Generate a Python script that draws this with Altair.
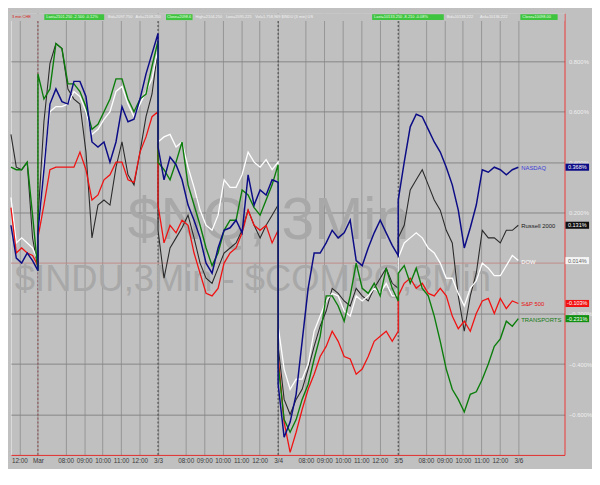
import altair as alt
import pandas as pd

# ---------------- data (values in %, time in trading hours from the Mar open) -------------
pre_hours = [-1.46, -1.17, -0.88, -0.58, -0.29, 0.0]
day_starts = [0.0, 6.5, 13.0, 19.5]
bar_offsets = [0, 0.325, 0.65, 0.975, 1.3, 1.625, 1.95, 2.275, 2.6, 2.925, 3.25,
               3.575, 3.9, 4.225, 4.55, 4.875, 5.2, 5.525, 5.85, 6.175, 6.5]

nasdaq = [0.15, 0.02, 0.00, 0.04, 0.01, -0.03,
          0.12, 0.37, 0.63, 0.69, 0.64, 0.63, 0.72, 0.72, 0.66, 0.48, 0.46, 0.48, 0.40, 0.48, 0.62, 0.56, 0.57, 0.65, 0.75, 0.83, 0.91,
          0.46, 0.33, 0.42, 0.39, 0.33, 0.23, 0.17, 0.10, 0.00, -0.04, 0.06, 0.13, 0.14, 0.17, 0.12, 0.35, 0.23, 0.29, 0.27, 0.33, 0.32,
          -0.48, -0.69, -0.63, -0.52, -0.31, -0.10, 0.04, 0.04, 0.08, 0.13, 0.10, 0.12, 0.17, 0.01, -0.01, 0.06, 0.12, 0.17, 0.12, 0.07, 0.03,
          0.25, 0.40, 0.54, 0.59, 0.58, 0.53, 0.48, 0.44, 0.38, 0.31, 0.21, 0.06, 0.14, 0.23, 0.37, 0.36, 0.38, 0.37, 0.35, 0.37, 0.38]
russell = [0.51, 0.38, 0.37, 0.40, 0.10, -0.02,
           0.17, 0.56, 0.79, 0.87, 0.85, 0.69, 0.65, 0.63, 0.44, 0.10, 0.23, 0.25, 0.23, 0.38, 0.48, 0.35, 0.31, 0.44, 0.58, 0.67, 0.85,
           0.13, -0.06, 0.06, 0.10, 0.14, 0.19, 0.10, 0.00, -0.06, -0.08, -0.02, 0.04, 0.06, 0.08, 0.13, 0.21, 0.15, 0.10, 0.15, 0.19, 0.23,
           -0.33, -0.54, -0.60, -0.54, -0.50, -0.42, -0.33, -0.25, -0.19, -0.10, -0.12, -0.15, -0.17, -0.10, -0.13, -0.15, -0.10, -0.06, -0.02, -0.08, -0.10,
           0.10, 0.15, 0.29, 0.33, 0.37, 0.31, 0.25, 0.21, 0.13, 0.08, -0.13, -0.27, -0.13, -0.04, 0.13, 0.10, 0.10, 0.08, 0.13, 0.13, 0.15]
dow = [0.26, 0.08, 0.10, 0.08, 0.06, 0.01,
       0.08, 0.40, 0.60, 0.62, 0.62, 0.63, 0.68, 0.66, 0.60, 0.51, 0.53, 0.57, 0.60, 0.68, 0.70, 0.63, 0.58, 0.63, 0.68, 0.73, 0.85,
       0.48, 0.50, 0.51, 0.46, 0.48, 0.38, 0.30, 0.21, 0.15, 0.13, 0.19, 0.33, 0.30, 0.30, 0.35, 0.44, 0.40, 0.38, 0.41, 0.37, 0.40,
       -0.25, -0.42, -0.50, -0.46, -0.46, -0.40, -0.27, -0.21, -0.15, -0.12, -0.13, -0.19, -0.21, -0.13, -0.15, -0.13, -0.10, -0.12, -0.08, -0.13, -0.13,
       0.02, 0.08, 0.10, 0.12, 0.10, 0.06, 0.04, 0.00, -0.06, -0.06, -0.12, -0.17, -0.10, -0.07, 0.00, -0.02, -0.05, -0.05, -0.01, 0.03, 0.01]
sp500 = [0.22, 0.04, 0.06, 0.04, 0.03, -0.01,
         0.10, 0.23, 0.37, 0.38, 0.38, 0.38, 0.38, 0.44, 0.37, 0.25, 0.27, 0.33, 0.35, 0.40, 0.40, 0.33, 0.32, 0.44, 0.50, 0.58, 0.60,
         0.23, 0.08, 0.15, 0.12, 0.17, 0.15, 0.04, -0.04, -0.12, -0.13, -0.10, 0.00, 0.04, 0.06, 0.12, 0.21, 0.15, 0.13, 0.15, 0.08, 0.13,
         -0.37, -0.63, -0.75, -0.67, -0.58, -0.50, -0.44, -0.37, -0.33, -0.27, -0.31, -0.37, -0.38, -0.44, -0.42, -0.37, -0.31, -0.29, -0.27, -0.31, -0.27,
         -0.13, -0.08, -0.06, -0.10, -0.08, -0.12, -0.13, -0.10, -0.13, -0.21, -0.26, -0.23, -0.27, -0.20, -0.15, -0.14, -0.20, -0.14, -0.18, -0.15, -0.16]
transports = [0.38, 0.37, 0.37, 0.40, 0.19, -0.03,
              0.75, 0.65, 0.69, 0.87, 0.85, 0.71, 0.71, 0.68, 0.62, 0.53, 0.55, 0.60, 0.65, 0.73, 0.73, 0.65, 0.60, 0.65, 0.67, 0.78, 0.88,
              0.40, 0.37, 0.33, 0.40, 0.48, 0.31, 0.23, 0.15, 0.06, -0.01, 0.04, 0.13, 0.17, 0.17, 0.29, 0.27, 0.22, 0.19, 0.25, 0.31, 0.39,
              -0.40, -0.62, -0.67, -0.62, -0.54, -0.48, -0.38, -0.29, -0.13, -0.13, -0.17, -0.23, -0.13, 0.00, -0.10, -0.12, -0.08, -0.13, -0.02, -0.10, -0.15,
              -0.04, -0.01, -0.08, -0.02, -0.10, -0.13, -0.21, -0.31, -0.42, -0.50, -0.54, -0.59, -0.52, -0.51, -0.46, -0.40, -0.33, -0.30, -0.23, -0.25, -0.22]

series_names = ["NASDAQ", "Russell 2000", "DOW", "S&P 500", "TRANSPORTS"]
box_texts = ["0.368%", "0.131%", "0.014%", "-0.103%", "-0.231%"]

x_tick_values = [-1, 0, 1.5, 2.5, 3.5, 4.5, 5.5, 6.5, 8, 9, 10, 11, 12, 13,
                 14.5, 15.5, 16.5, 17.5, 18.5, 19.5, 21, 22, 23, 24, 25, 26]
x_tick_labels = ["12:00", "Mar", "08:00", "09:00", "10:00", "11:00", "12:00", "3/3",
                 "08:00", "09:00", "10:00", "11:00", "12:00", "3/4",
                 "08:00", "09:00", "10:00", "11:00", "12:00", "3/5",
                 "08:00", "09:00", "10:00", "11:00", "12:00", "3/6"]
# the 0.000% label sits under the DOW value box in the original, only its line shows
y_tick_values = [-0.6, -0.4, -0.2, 0.2, 0.4, 0.6, 0.8]

# ---------------- styles ----------------
BG = "#c0c0c0"
line_colors = {"NASDAQ": "#0c0c86", "Russell 2000": "#2a2a2a", "DOW": "#ffffff",
               "S&P 500": "#f01212", "TRANSPORTS": "#0b7d0b"}
line_widths = {"NASDAQ": 1.5, "Russell 2000": 1.1, "DOW": 1.3, "S&P 500": 1.3, "TRANSPORTS": 1.4}
draw_order = ["Russell 2000", "DOW", "S&P 500", "TRANSPORTS", "NASDAQ"]
label_colors = ["#3b3bd6", "#1a1a1a", "#ffffff", "#e81010", "#127a12"]
box_colors = ["#0c0c86", "#111111", "#f4f4f4", "#f21212", "#109010"]
box_text_colors = ["#ffffff", "#ffffff", "#606060", "#ffffff", "#ffffff"]

W, H = 564, 450
FONT = "Liberation Sans"

# ---------------- tables ----------------
hours = pre_hours + [s + o for s in day_starts for o in bar_offsets]
values = {"NASDAQ": nasdaq, "Russell 2000": russell, "DOW": dow,
          "S&P 500": sp500, "TRANSPORTS": transports}
rows = []
for name, vals in values.items():
    for i, (t, v) in enumerate(zip(hours, vals)):
        rows.append({"series": name, "idx": i, "t": t, "v": v})
df = pd.DataFrame(rows)

ends = pd.DataFrame({"name": series_names,
                     "t": [hours[-1]] * len(series_names),
                     "v": [values[n][-1] for n in series_names],
                     "box": box_texts})
one = pd.DataFrame({"k": [0]})

label_expr = ("[" + ",".join("'%s'" % l for l in x_tick_labels) + "][indexof(["
              + ",".join(str(v) for v in x_tick_values) + "], datum.value)]")

X = alt.X("t:Q",
          scale=alt.Scale(domain=[-1.46, 28.5], nice=False, zero=False),
          axis=alt.Axis(values=x_tick_values, labelExpr=label_expr, title=None,
                        orient="bottom", grid=True, gridColor="#959595", gridWidth=1,
                        ticks=False, domainColor="#e02828", domainWidth=1,
                        labelColor="#3a3a3a", labelFontSize=6.5, labelFont=FONT,
                        labelPadding=3, labelOverlap=False, labelFlush=False))
Y = alt.Y("v:Q",
          scale=alt.Scale(domain=[-0.76, 0.99], nice=False, zero=False),
          axis=alt.Axis(values=y_tick_values, orient="right", title=None,
                        labelExpr="format(datum.value, '.3f') + '%'",
                        grid=True, gridColor="#868686", gridWidth=1, ticks=False,
                        domainColor="#e02828", domainWidth=1, labelColor="#efefef",
                        labelFontSize=6, labelFont=FONT, labelPadding=4,
                        labelOverlap=False))

layers = []

# day separators
days_df = pd.DataFrame({"t": day_starts})
layers.append(alt.Chart(days_df.iloc[:1]).mark_rule(color="#8a4848", strokeWidth=1, strokeDash=[2, 2]).encode(x=X))
layers.append(alt.Chart(days_df.iloc[1:]).mark_rule(color="#3c3c3c", strokeWidth=1, strokeDash=[2, 2]).encode(x=X))
# zero line
layers.append(alt.Chart(pd.DataFrame({"v": [0.0]})).mark_rule(color="#c28a8a", strokeWidth=1).encode(y=Y))

# watermarks
layers.append(alt.Chart(one).mark_text(align="left", baseline="alphabetic", font=FONT, fontSize=60,
                                       color="#a8a8a8").encode(
    x=alt.value(119), y=alt.value(230), text=alt.value("$NQ, 3Min")))
layers.append(alt.Chart(one).mark_text(align="left", baseline="alphabetic", font=FONT, fontSize=37,
                                       color="#a8a8a8").encode(
    x=alt.value(4), y=alt.value(283), text=alt.value("$INDU,3Min - $COMPQ,3Min")))

# header strip
layers.append(alt.Chart(one).mark_rect(color=BG).encode(
    x=alt.value(0), x2=alt.value(W), y=alt.value(0), y2=alt.value(8)))
for x0, x1 in [(34, 95), (158, 185), (368, 441), (519, 557)]:
    layers.append(alt.Chart(one).mark_rect(color="#3ec43e").encode(
        x=alt.value(x0), x2=alt.value(x1), y=alt.value(1), y2=alt.value(7)))
header = [(1, "3 min  CHE", "#d81818"),
          (36, "Last=2101.250  -2.500  -0.12%", "#eaffea"),
          (99, "Bid=2097.750", "#f2f2f2"),
          (127, "Ask=2108.250", "#f2f2f2"),
          (159, "Close=2098.6", "#eaffea"),
          (188, "High=2104.250", "#f2f2f2"),
          (219, "Low=2095.225", "#f2f2f2"),
          (249, "Vol=1,758,969    $INDU (3 min)    US", "#f2f2f2"),
          (370, "Last=10133.250  -8.210  -0.08%", "#eaffea"),
          (444, "Bid=10133.222", "#f2f2f2"),
          (478, "Ask=10136.222", "#f2f2f2"),
          (521, "Close=10098.00", "#eaffea")]
for hx, txt, col in header:
    layers.append(alt.Chart(one).mark_text(align="left", baseline="middle", font=FONT,
                                           fontSize=4, color=col).encode(
        x=alt.value(hx), y=alt.value(4), text=alt.value(txt)))

# series lines
for name in draw_order:
    layers.append(alt.Chart(df[df.series == name]).mark_line(
        color=line_colors[name], strokeWidth=line_widths[name]).encode(
        x=X, y=Y, order=alt.Order("idx:Q")))

# series name labels
layers.append(alt.Chart(ends).mark_text(align="left", baseline="middle", dx=3, dy=1,
                                        font=FONT, fontSize=6).encode(
    x=X, y=Y, text="name:N",
    color=alt.Color("name:N", scale=alt.Scale(domain=series_names, range=label_colors), legend=None)))
# last value boxes on the price axis
layers.append(alt.Chart(ends).mark_point(shape="M-1,-0.3H1V0.3H-1Z", size=576, filled=True,
                                         opacity=1, strokeWidth=0).encode(
    x=alt.value(W + 13), y=Y,
    color=alt.Color("name:N", scale=alt.Scale(domain=series_names, range=box_colors), legend=None)))
layers.append(alt.Chart(ends).mark_text(align="center", baseline="middle", font=FONT,
                                        fontSize=5.6).encode(
    x=alt.value(W + 13), y=Y, text="box:N",
    color=alt.Color("name:N", scale=alt.Scale(domain=series_names, range=box_text_colors), legend=None)))

chart = (alt.layer(*layers)
         .resolve_scale(color="independent")
         .properties(width=W, height=H, padding=0, background=BG)
         .configure_view(stroke=None, fill=BG)
         .configure(font=FONT))

chart.save("out.html", embed_options={"renderer": "svg", "actions": False})
